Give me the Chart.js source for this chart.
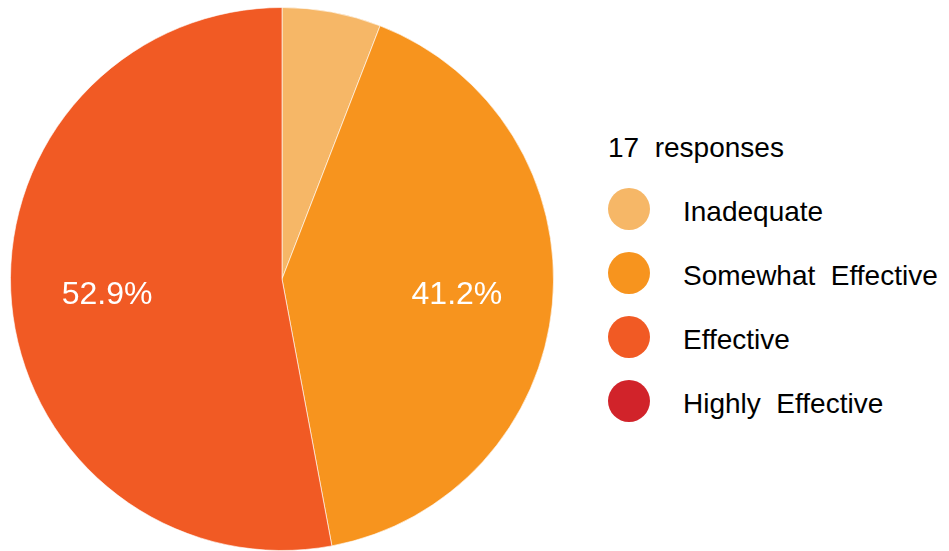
<!DOCTYPE html>
<html>
<head>
<meta charset="utf-8">
<script src="https://cdn.jsdelivr.net/npm/chart.js@4"></script>
<style>
  body { margin: 0; background: #fff; font-family: "Liberation Sans", Arial, sans-serif; }
  .wrap { position: relative; width: 949px; height: 551px; }
  .pie-box { position: absolute; left: 10px; top: 7px; width: 544px; height: 544px; }
  .legend { position: absolute; left: 608px; top: 130px; color: #000; font-size: 28px; white-space: pre; }
  .legend .title { height: 36px; line-height: 36px; margin-bottom: 22px; }
  .legend .item { position: relative; height: 64px; }
  .legend .dot { position: absolute; left: 0; top: 0; width: 42px; height: 42px; border-radius: 50%; }
  .legend .txt { position: absolute; left: 75px; top: 4px; line-height: 40px; }
</style>
</head>
<body>
<div class="wrap">
  <div class="pie-box"><canvas id="pieChart"></canvas></div>
  <div class="legend" id="legend"></div>
</div>
<script>
// survey answers
const labels = ["Inadequate", "Somewhat  Effective", "Effective", "Highly  Effective"];
const counts = [1, 7, 9, 0];
const colors = ["#f6b767", "#f7941e", "#f15a24", "#d1232a"];
const total = counts.reduce((a, b) => a + b, 0);

// LEGEND
const legend = document.getElementById("legend");
let html = '<div class="title">' + total + "  responses</div>";
labels.forEach((name, i) => {
  html += '<div class="item"><span class="dot" style="background:' + colors[i] + '"></span><span class="txt">' + name + "</span></div>";
});
legend.innerHTML = html;

// percentage text inside the bigger slices
const sliceLabels = {
  id: "sliceLabels",
  afterDatasetsDraw(chart) {
    const ctx = chart.ctx;
    const arcs = chart.getDatasetMeta(0).data;
    ctx.save();
    ctx.fillStyle = "#fff";
    ctx.font = '32px "Liberation Sans", Arial, sans-serif';
    ctx.textAlign = "center";
    ctx.textBaseline = "middle";
    arcs.forEach((arc, i) => {
      const pct = (counts[i] / total) * 100;
      if (pct < 10) return;
      const mid = (arc.startAngle + arc.endAngle) / 2;
      const r = arc.outerRadius * 0.647;
      ctx.fillText(pct.toFixed(1) + "%", arc.x + Math.cos(mid) * r, arc.y + Math.sin(mid) * r);
    });
    ctx.restore();
  },
};

const ctx = document.getElementById("pieChart").getContext("2d");
new Chart(ctx, {
  type: "pie",
  data: {
    labels: labels,
    datasets: [
      {
        data: counts,
        backgroundColor: colors,
        borderColor: "rgba(255,255,255,0.6)",
        borderWidth: 1,
      },
    ],
  },
  options: {
    responsive: true,
    maintainAspectRatio: false,
    animation: false,
    layout: { padding: 0 },
    plugins: { legend: { display: false }, tooltip: { enabled: false } },
  },
  plugins: [sliceLabels],
});
</script>
</body>
</html>
